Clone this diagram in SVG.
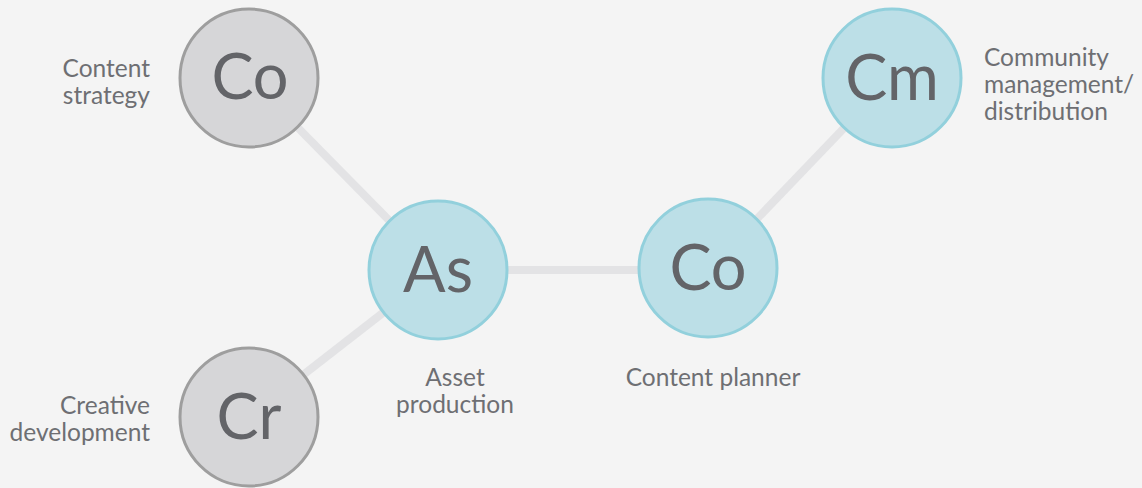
<svg xmlns="http://www.w3.org/2000/svg" width="1142" height="488" viewBox="0 0 1142 488">
<style>
.bg{fill:#f4f4f4}
.conn{stroke:#e3e3e5;stroke-width:8;fill:none}
.gray{fill:#d6d6d8;stroke:#9e9e9e;stroke-width:3}
.blue{fill:#bcdfe7;stroke:#92d0dc;stroke-width:3}
.big{font-family:Lato,"Open Sans",sans-serif;font-size:63px;fill:#636468;text-anchor:middle}
.lbl{font-family:Lato,"Open Sans",sans-serif;font-size:24.5px;fill:#6e6f73}
</style>
<rect class="bg" x="0" y="0" width="1142" height="488"/>
<g id="connectors">
<line class="conn" x1="249" y1="78" x2="438" y2="270"/>
<line class="conn" x1="249" y1="417" x2="438" y2="270"/>
<line class="conn" x1="438" y1="270" x2="708" y2="270"/>
<line class="conn" x1="708" y1="270" x2="892" y2="78"/>
</g>
<g id="node-content-strategy">
<circle class="gray" cx="249" cy="78" r="69"/>
<text class="big" x="250" y="99">Co</text>
<text class="lbl" text-anchor="end" x="150" y="77">Content</text>
<text class="lbl" text-anchor="end" x="150" y="104">strategy</text>
</g>
<g id="node-creative-development">
<circle class="gray" cx="249" cy="417" r="69"/>
<text class="big" x="249" y="439">Cr</text>
<text class="lbl" text-anchor="end" x="150" y="414">Creative</text>
<text class="lbl" text-anchor="end" x="150" y="441">development</text>
</g>
<g id="node-asset-production">
<circle class="blue" cx="438" cy="270" r="69"/>
<text class="big" x="438" y="292">As</text>
<text class="lbl" text-anchor="middle" x="455" y="386">Asset</text>
<text class="lbl" text-anchor="middle" x="455" y="413">production</text>
</g>
<g id="node-content-planner">
<circle class="blue" cx="708" cy="268" r="69"/>
<text class="big" x="708" y="290">Co</text>
<text class="lbl" text-anchor="middle" x="713" y="386">Content planner</text>
</g>
<g id="node-community">
<circle class="blue" cx="892" cy="78" r="69"/>
<text class="big" x="892" y="100">Cm</text>
<text class="lbl" x="984" y="66">Community</text>
<text class="lbl" x="984" y="93">management/</text>
<text class="lbl" x="984" y="120">distribution</text>
</g>
</svg>
